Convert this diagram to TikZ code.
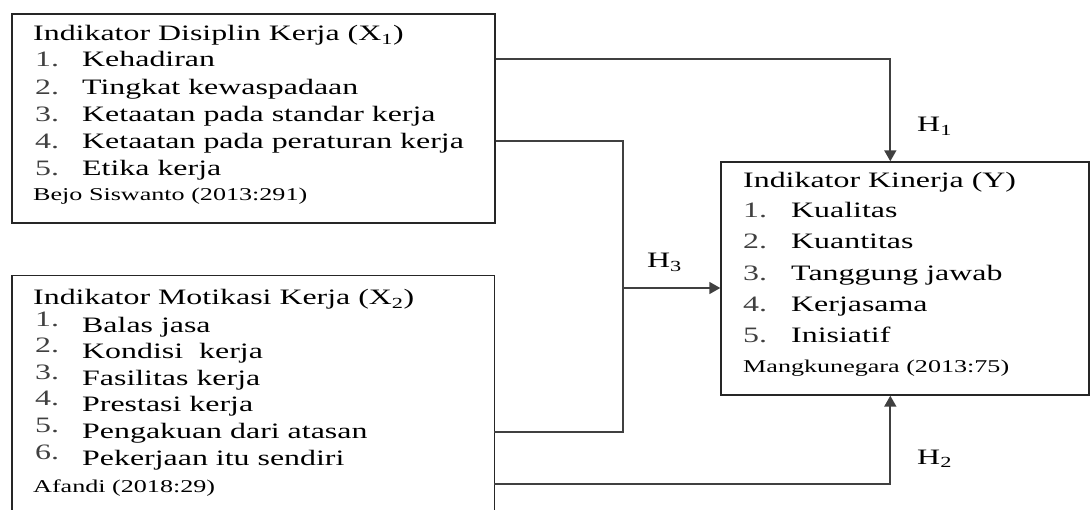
\documentclass[tikz,border=0pt]{standalone}
\usepackage{fontspec}
\setmainfont[FakeStretch=1.45]{Liberation Serif}
\usetikzlibrary{arrows.meta,calc}

\newcommand{\itemfont}{\fontsize{22}{26}\selectfont}
\newcommand{\citefont}{\fontsize{18}{22}\selectfont}

\tikzset{
  box/.style={draw=black!85, line width=1.4pt, inner sep=0pt},
  frame/.style={inner sep=0pt},
  txt/.style={anchor=base west, inner sep=0pt, font=\itemfont, text=black},
  num/.style={anchor=base west, inner sep=0pt, font=\itemfont, text=black!75},
  cite/.style={anchor=base west, inner sep=0pt, font=\citefont, text=black},
  link/.style={draw=black!75, line width=1.8pt},
  arr/.style={link, -{Triangle[length=11pt,width=12pt]}},
  hyp/.style={anchor=base west, inner sep=0pt, font=\itemfont, text=black}
}

\begin{document}
\begin{tikzpicture}[x=1pt,y=-1pt]
\useasboundingbox (0,0) rectangle (1091,510);

% ---- box X1: work discipline ----
\node[box, minimum width=483pt, minimum height=209pt] (x1) at (253.5,118.5) {};
\node[txt] (x1title) at (33,41) {Indikator Disiplin Kerja (X\textsubscript{1})};
\foreach \t [count=\i] in {Kehadiran, Tingkat kewaspadaan, Ketaatan pada standar kerja, Ketaatan pada peraturan kerja, Etika kerja}{
  \node[num] (x1n\i) at (35,{67+27.2*(\i-1)}) {\i.};
  \node[txt] (x1i\i) at (82,{67+27.2*(\i-1)}) {\t};
}
\node[cite] (x1src) at (33,201) {Bejo Siswanto (2013:291)};

% ---- box X2: work motivation (runs past the lower edge) ----
\node[frame, minimum width=482pt, minimum height=234pt] (x2) at (253,393) {};
\draw[box] (x2.south west) -- (x2.north west) -- (x2.north east) -- (x2.south east);
\node[txt] (x2title) at (33,305) {Indikator Motikasi Kerja (X\textsubscript{2})};
\foreach \t [count=\i] in {Balas jasa, Kondisi\ \ kerja, Fasilitas kerja, Prestasi kerja, Pengakuan dari atasan, Pekerjaan itu sendiri}{
  \node[num] (x2n\i) at (35,{326+26.6*(\i-1)}) {\i.};
  \node[txt] (x2i\i) at (82,{332+26.6*(\i-1)}) {\t};
}
\node[cite] (x2src) at (33,492) {Afandi (2018:29)};

% ---- box Y: performance ----
\node[box, minimum width=368pt, minimum height=233pt] (y) at (905,278.5) {};
\node[txt] (ytitle) at (743,188) {Indikator Kinerja (Y)};
\foreach \t [count=\i] in {Kualitas, Kuantitas, Tanggung jawab, Kerjasama, Inisiatif}{
  \node[num] (yn\i) at (743,{218+31*(\i-1)}) {\i.};
  \node[txt] (yi\i) at (791,{218+31*(\i-1)}) {\t};
}
\node[cite] (ysrc) at (743,372) {Mangkunegara (2013:75)};

% ---- connectors ----
% H1: X1 -> Y
\coordinate (h1a) at ($(x1.north east)+(0,46)$);
\coordinate (h1b) at ($(y.north west)+(170,0)$);
\draw[arr] (h1a) -| (h1b);
% H2: X2 -> Y
\coordinate (h2a) at ($(x2.north east)+(0,208)$);
\coordinate (h2b) at ($(y.south west)+(170,0)$);
\draw[arr] (h2a) -| (h2b);
% H3: X1 and X2 together -> Y
\coordinate (b1) at ($(x1.north east)+(0,128)$);
\coordinate (b2) at ($(x2.north east)+(0,156)$);
\coordinate (bj) at (623,288);
\draw[link] (b1) -| (bj |- b2) -- (b2);
\draw[arr] (bj) -- (y.west |- bj);

% ---- hypothesis labels ----
\node[hyp] (h1) at (917,132) {H\textsubscript{1}};
\node[hyp] (h2) at (917,464) {H\textsubscript{2}};
\node[hyp] (h3) at (647,268) {H\textsubscript{3}};
\end{tikzpicture}
\end{document}
